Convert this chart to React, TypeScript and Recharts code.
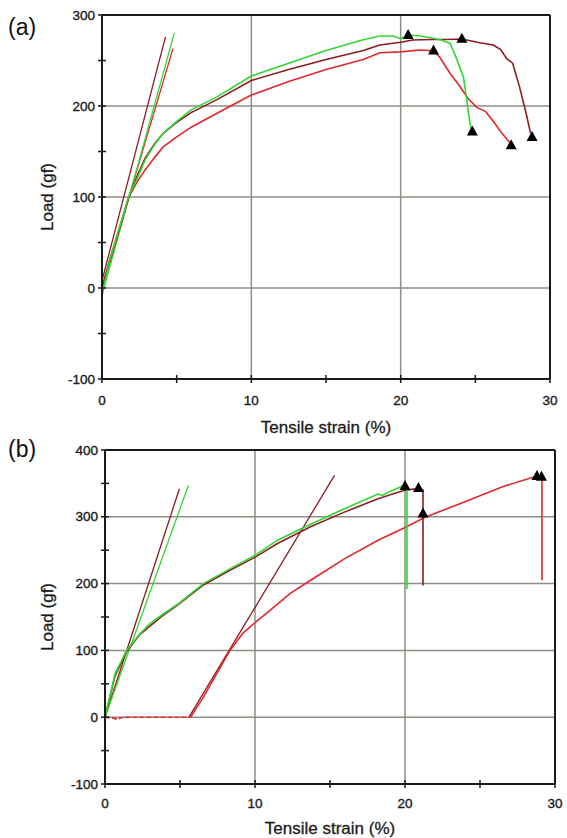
import React from "react";
import { ComposedChart, Line, Scatter, XAxis, YAxis, ReferenceLine, Label } from "recharts";

// strain (%) / load (gf)
const aGreenX = [0, 0.5, 1.0, 1.8, 2.4, 2.9, 3.5, 4.1, 5.0, 6.0, 7.7, 10.0, 12.5, 15.0, 17.3, 18.6, 19.5, 20.0, 20.5, 21.3, 22.0, 22.6, 23.3, 23.7, 24.2, 24.4, 24.6, 24.75];
const aGreenY = [-8, 30, 57, 101, 122, 141, 157, 170, 183, 196, 210, 233, 247, 261, 272, 277, 277, 274, 278, 277, 275, 273, 269, 254, 232, 210, 185, 172];
const aBrownX = [0, 0.5, 1.0, 1.8, 2.4, 2.9, 3.5, 4.1, 5.0, 6.0, 7.7, 10.0, 12.5, 15.0, 17.5, 18.6, 20.0, 20.8, 22.0, 23.0, 24.1, 25.3, 26.2, 26.7, 27.1, 27.5, 27.96, 28.4, 28.7];
const aBrownY = [0, 30, 57, 100, 125, 143, 158, 170, 182, 193, 207, 228, 240, 251, 261, 267, 270, 272.5, 273, 273, 273.6, 269.6, 267, 262, 252, 247, 221, 192, 170];
const aRedX = [0, 0.5, 1.0, 1.8, 2.4, 2.9, 3.5, 4.1, 5.0, 6.0, 7.7, 10.0, 12.5, 15.0, 17.5, 18.6, 20.0, 21.3, 22.2, 22.6, 23.3, 23.9, 24.5, 25.1, 25.7, 26.3, 26.7, 27.3];
const aRedY = [0, 28, 55, 100, 118, 130, 143, 155, 166, 177, 192, 212, 227, 240, 251, 258.6, 259.5, 261.5, 260.8, 254, 236, 223, 208.5, 198.5, 193.8, 181, 171.8, 160];
const aBrownTanX = [0, 4.25];
const aBrownTanY = [8, 276];
const aGreenTanX = [0, 4.84];
const aGreenTanY = [-8, 280];
const aRedTanX = [0, 4.75];
const aRedTanY = [0, 263];
const aMarkX = [20.5, 22.2, 24.1, 24.8, 27.4, 28.8];
const aMarkY = [278, 261, 274, 172, 157, 166];

const bGreenX = [0, 0.67, 1.44, 2.33, 3.0, 3.78, 4.9, 6.56, 8.33, 10.04, 11.5, 13.07, 15.96, 18.2, 18.5, 19.0, 19.73, 20.0, 20.13, 20.13];
const bGreenY = [0, 65, 100, 125, 140, 153, 170, 200, 222, 243, 265, 282, 312, 334, 332, 338, 345, 347, 345, 192];
const bBrownX = [0, 0.67, 1.44, 2.33, 3.78, 4.9, 6.56, 8.33, 10.04, 11.5, 13.7, 15.96, 18.2, 19.96, 20.73, 21.0, 21.2, 21.2];
const bBrownY = [0, 62, 98, 124, 151, 169, 198, 220, 240, 260, 285, 307, 327, 339.6, 342, 342, 340, 197];
const bRedFlatX = [0, 0.5, 0.8, 1.2, 5.7];
const bRedFlatY = [0, -1, -3, 0, 0];
const bRedX = [5.7, 6.56, 7.44, 8.33, 9.2, 10.04, 11.0, 12.33, 13.7, 15.96, 18.2, 20.0, 21.3, 23.7, 26.5, 28.65, 29.1, 29.13, 29.13];
const bRedY = [0, 30, 65, 100, 126, 142.5, 160, 185, 205, 237, 265, 284, 299, 320, 345, 360, 361, 360, 205];
const bBrownTanX = [0, 4.96];
const bBrownTanY = [0, 342];
const bGreenTanX = [0, 5.56];
const bGreenTanY = [0, 347];
const bRedTanX = [5.6, 15.3];
const bRedTanY = [0, 362];
const bMarkX = [20.0, 20.9, 21.2, 28.8, 29.1];
const bMarkY = [346, 343, 305, 361, 360];

const xTicks = [0, 5, 10, 15, 20, 25, 30];
const aYTicks = [-100, -50, 0, 50, 100, 150, 200, 250, 300];
const bYTicks = [-100, -50, 0, 50, 100, 150, 200, 250, 300, 350, 400];

const FONT = "'Liberation Sans', Arial, sans-serif";
const GREEN = "#33d633";
const BROWN = "#8b1c22";
const RED = "#e0282c";
const GRID = "#8e8e84";
const INK = "#1a1a1a";
const TICK_SIZE = 4;

const pts = (xs: number[], ys: number[]) => xs.map((x, i) => ({ x, y: ys[i] }));

const Triangle = (props: any) => {
  const { cx, cy } = props;
  return <polygon points={`${cx},${cy - 6} ${cx - 5.5},${cy + 4} ${cx + 5.5},${cy + 4}`} fill="#000" />;
};

const labelText = { fill: INK, fontSize: 13.5, fontFamily: FONT, stroke: INK, strokeWidth: 0.35 };

// ticks cross the axis line, labels only on majors
const YTick = (props: any) => {
  const { x, y, payload, margin } = props;
  const ax = x + TICK_SIZE + margin;
  const v = payload.value;
  return (
    <g>
      <line x1={ax - 4} x2={ax + 4} y1={y} y2={y} stroke={INK} strokeWidth={1.5} />
      {v % 100 === 0 && (
        <text x={x} y={y} textAnchor="end" dominantBaseline="central" {...labelText}>
          {v}
        </text>
      )}
    </g>
  );
};

const XTick = (props: any) => {
  const { x, y, payload, margin } = props;
  const ay = y - TICK_SIZE - margin;
  const v = payload.value;
  return (
    <g>
      <line x1={x} x2={x} y1={ay - 4} y2={ay + 4} stroke={INK} strokeWidth={1.5} />
      {v % 10 === 0 && (
        <text x={x} y={y} dy="0.71em" textAnchor="middle" {...labelText}>
          {v}
        </text>
      )}
    </g>
  );
};

const titleText = { fill: INK, fontSize: 17, fontFamily: FONT, stroke: INK, strokeWidth: 0.3 };

const XTitle = (props: any) => {
  const { viewBox, dy } = props;
  const cx = viewBox.x + viewBox.width / 2;
  return (
    <text x={cx} y={viewBox.y + dy} textAnchor="middle" dominantBaseline="central" {...titleText}>
      Tensile strain (%)
    </text>
  );
};

const YTitle = (props: any) => {
  const { viewBox } = props;
  const cy = viewBox.y + viewBox.height / 2;
  return (
    <text x={47} y={cy} transform={`rotate(-90, 47, ${cy})`} textAnchor="middle" dominantBaseline="central" {...titleText}>
      Load (gf)
    </text>
  );
};

type Series = { data: { x: number; y: number }[]; color: string; width?: number; dash?: string };

function Panel(props: {
  height: number;
  margin: any;
  yWidth: number;
  yDomain: [number, number];
  yTicks: number[];
  series: Series[];
  marks: { x: number; y: number }[];
  titleDy: number;
  xTickMargin: number;
}) {
  const { height, margin, yWidth, yDomain, yTicks, series, marks, titleDy, xTickMargin } = props;
  const majorY = yTicks.filter((v) => v % 100 === 0 && v > yDomain[0] && v < yDomain[1]);
  return (
    <ComposedChart width={567} height={height} margin={margin}>
      <XAxis
        type="number"
        dataKey="x"
        domain={[0, 30]}
        ticks={xTicks}
        axisLine={{ stroke: INK, strokeWidth: 2 }}
        tickLine={false}
        tickSize={TICK_SIZE}
        tickMargin={xTickMargin}
        tick={<XTick margin={xTickMargin} />}
        height={30}
        interval={0}
        allowDataOverflow
      >
        <Label content={<XTitle dy={titleDy} />} />
      </XAxis>
      <YAxis
        type="number"
        dataKey="y"
        domain={yDomain}
        ticks={yTicks}
        axisLine={{ stroke: INK, strokeWidth: 2 }}
        tickLine={false}
        tickSize={TICK_SIZE}
        tickMargin={3}
        tick={<YTick margin={3} />}
        width={yWidth}
        interval={0}
        allowDataOverflow
      >
        <Label content={<YTitle />} />
      </YAxis>
      {[10, 20].map((v) => (
        <ReferenceLine key={"gx" + v} x={v} stroke={GRID} strokeWidth={1.5} />
      ))}
      {majorY.map((v) => (
        <ReferenceLine key={"gy" + v} y={v} stroke={GRID} strokeWidth={1.5} />
      ))}
      <ReferenceLine x={30} stroke={INK} strokeWidth={2} />
      <ReferenceLine y={yDomain[1]} stroke={INK} strokeWidth={2} />
      {series.map((s, i) => (
        <Line
          key={i}
          data={s.data}
          dataKey="y"
          type="linear"
          stroke={s.color}
          strokeWidth={s.width ?? 1.6}
          strokeDasharray={s.dash}
          dot={false}
          isAnimationActive={false}
        />
      ))}
      <Scatter data={marks} dataKey="y" shape={<Triangle />} isAnimationActive={false} />
    </ComposedChart>
  );
}

const aSeries: Series[] = [
  { data: pts(aBrownTanX, aBrownTanY), color: BROWN, width: 1.3 },
  { data: pts(aRedTanX, aRedTanY), color: RED, width: 1.3 },
  { data: pts(aGreenTanX, aGreenTanY), color: GREEN, width: 1.3 },
  { data: pts(aRedX, aRedY), color: RED },
  { data: pts(aBrownX, aBrownY), color: BROWN },
  { data: pts(aGreenX, aGreenY), color: GREEN },
];

const bSeries: Series[] = [
  { data: pts(bBrownTanX, bBrownTanY), color: BROWN, width: 1.3 },
  { data: pts(bGreenTanX, bGreenTanY), color: GREEN, width: 1.3 },
  { data: pts(bRedTanX, bRedTanY), color: BROWN, width: 1.3 },
  { data: pts(bRedFlatX, bRedFlatY), color: RED, dash: "5 2" },
  { data: pts(bRedX, bRedY), color: RED },
  { data: pts(bBrownX, bBrownY), color: BROWN },
  { data: pts(bGreenX, bGreenY), color: GREEN },
];

const panelLabel: React.CSSProperties = {
  position: "absolute",
  left: 8,
  fontFamily: "'Liberation Sans', Arial, sans-serif",
  fontSize: 23,
  color: "#111",
  lineHeight: "24px",
};

export default function App() {
  return (
    <div style={{ position: "absolute", left: 0, top: 0, width: 567, height: 838, background: "#fff", overflow: "hidden" }}>
      <div style={{ position: "absolute", left: 0, top: 0 }}>
        <Panel
          height={442}
          margin={{ top: 15, right: 17, bottom: 33, left: 0 }}
          yWidth={102}
          yDomain={[-100, 300]}
          yTicks={aYTicks}
          series={aSeries}
          marks={pts(aMarkX, aMarkY)}
          titleDy={48}
          xTickMargin={12}
        />
      </div>
      <div style={{ position: "absolute", left: 0, top: 432 }}>
        <Panel
          height={406}
          margin={{ top: 18, right: 12, bottom: 24, left: 0 }}
          yWidth={105}
          yDomain={[-100, 400]}
          yTicks={bYTicks}
          series={bSeries}
          marks={pts(bMarkX, bMarkY)}
          titleDy={44}
          xTickMargin={10}
        />
      </div>
      <div style={{ ...panelLabel, top: 15 }}>(a)</div>
      <div style={{ ...panelLabel, top: 437 }}>(b)</div>
    </div>
  );
}
